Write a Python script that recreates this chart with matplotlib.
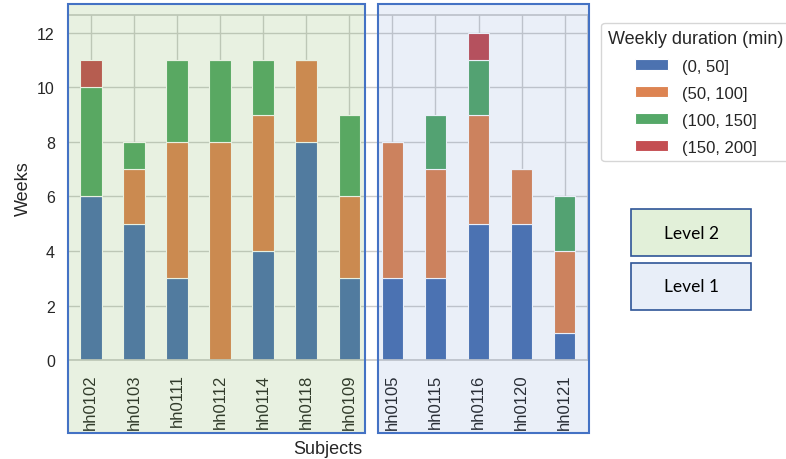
import matplotlib
matplotlib.use("Agg")
import matplotlib.pyplot as plt
from matplotlib.patches import Rectangle
import seaborn as sns
import numpy as np

# данные (недели по интервалам длительности)
subjects = ['hh0102', 'hh0103', 'hh0111', 'hh0112', 'hh0114', 'hh0118', 'hh0109',
            'hh0105', 'hh0115', 'hh0116', 'hh0120', 'hh0121']
dur_0_50 = [6, 5, 3, 0, 4, 8, 3, 3, 3, 5, 5, 1]
dur_50_100 = [0, 2, 5, 8, 5, 3, 3, 5, 4, 4, 2, 3]
dur_100_150 = [4, 1, 3, 3, 2, 0, 3, 0, 2, 2, 0, 2]
dur_150_200 = [1, 0, 0, 0, 0, 0, 0, 0, 0, 1, 0, 0]
bins = ['(0, 50]', '(50, 100]', '(100, 150]', '(150, 200]']

sns.set_theme(style="whitegrid")
plt.rcParams['font.family'] = ['Liberation Sans', 'DejaVu Sans']

fig = plt.figure(figsize=(7.86, 4.6), dpi=100)
ax = fig.add_axes([0.0865, 0.215, 0.661, 0.75])

colors = sns.color_palette("deep")[:4]
x = np.arange(len(subjects))
bottom = np.zeros(len(subjects))
for vals, lab, c in zip([dur_0_50, dur_50_100, dur_100_150, dur_150_200], bins, colors):
    ax.bar(x, vals, width=0.5, bottom=bottom, color=c, label=lab,
           edgecolor='white', linewidth=0.8)
    bottom += np.array(vals)

ax.set_xticks(x)
ax.set_xticklabels(subjects, rotation=90, fontsize=12)
ax.set_xlim(-0.53, len(subjects) - 0.47)
ax.set_ylim(0, 12.65)
ax.set_yticks([0, 2, 4, 6, 8, 10, 12])
ax.tick_params(axis='y', labelsize=11.5)
ax.set_xlabel('Subjects', fontsize=13)
ax.set_ylabel('Weeks', fontsize=13)
ax.xaxis.set_label_coords(0.5, -0.232)
ax.yaxis.set_label_coords(-0.07, 0.5)

leg = ax.legend(title='Weekly duration (min)', loc='upper left',
                bbox_to_anchor=(0.765, 0.948), bbox_transform=fig.transFigure,
                borderaxespad=0, fontsize=12, title_fontsize=13,
                handlelength=2.0, handleheight=0.6, labelspacing=0.72,
                frameon=True)

# полупрозрачные рамки уровней поверх графика
edge = '#4472c4'
fig.add_artist(Rectangle((0.0865, 0.0565), 0.378, 0.933, transform=fig.transFigure,
                         facecolor='#70ad47', alpha=0.16, edgecolor='none', zorder=5))
fig.add_artist(Rectangle((0.0865, 0.0565), 0.378, 0.933, transform=fig.transFigure,
                         facecolor='none', edgecolor=edge, linewidth=1.5, zorder=6))
fig.add_artist(Rectangle((0.481, 0.0565), 0.268, 0.933, transform=fig.transFigure,
                         facecolor=edge, alpha=0.11, edgecolor='none', zorder=5))
fig.add_artist(Rectangle((0.481, 0.0565), 0.268, 0.933, transform=fig.transFigure,
                         facecolor='none', edgecolor=edge, linewidth=1.5, zorder=6))

# подписи уровней
fig.add_artist(Rectangle((0.803, 0.441), 0.153, 0.102, transform=fig.transFigure,
                         facecolor='#e2f0d9', edgecolor='#2f5597', linewidth=1.2))
fig.text(0.8795, 0.492, 'Level 2', ha='center', va='center', fontsize=12.5,
         family='Lato', color='black')
fig.add_artist(Rectangle((0.803, 0.324), 0.153, 0.102, transform=fig.transFigure,
                         facecolor='#e8eef8', edgecolor='#2f5597', linewidth=1.2))
fig.text(0.8795, 0.375, 'Level 1', ha='center', va='center', fontsize=12.5,
         family='Lato', color='black')

fig.savefig('out.png', dpi=100)
